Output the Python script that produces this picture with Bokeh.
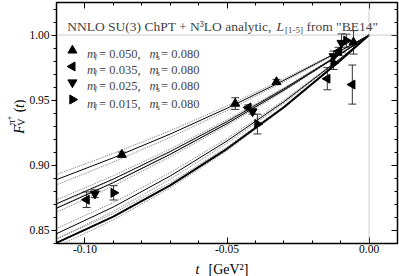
import numpy as np
from bokeh.plotting import figure
from bokeh.layouts import column, row
from bokeh.models import (LinearAxis, FixedTicker, PrintfTickFormatter, CustomJSTickFormatter,
                          Span, Label, Whisker, TeeHead, ColumnDataSource, Range1d)
from bokeh.core.properties import value
from bokeh.embed import file_html
from bokeh.resources import INLINE

# ---------------- data ----------------
up_t = [-0.0870, -0.0471, -0.0326, -0.0055]
up_F = [0.9082, 0.9474, 0.9640, 0.9944]
up_err = [0.0020, 0.0045, 0.0020, 0.0090]

left_t = [-0.0994, -0.0425, -0.0147, -0.0107, -0.0059]
left_F = [0.8736, 0.9444, 0.9665, 0.9876, 0.9620]
left_err = [0.0060, 0.0020, 0.0085, 0.0030, 0.0150]

down_t = [-0.0965, -0.0410, -0.0125, -0.0097]
down_F = [0.8782, 0.9413, 0.9837, 0.9939]
down_err = [0.0030, 0.0020, 0.0040, 0.0070]

right_t = [-0.0899, -0.0393, -0.0125, -0.0080]
right_F = [0.8789, 0.9317, 0.9786, 0.9957]
right_err = [0.0055, 0.0076, 0.0050, 0.0050]

curve_t = [-0.11, -0.09, -0.07, -0.05, -0.03, -0.01, 0.00]
fit_050 = [0.8890, 0.9058, 0.9240, 0.9438, 0.9652, 0.9880, 1.0]
fit_035 = [0.8705, 0.8895, 0.9106, 0.9336, 0.9587, 0.9857, 1.0]
fit_025 = [0.8670, 0.8867, 0.9084, 0.9320, 0.9577, 0.9854, 1.0]
fit_015 = [0.8475, 0.8680, 0.8918, 0.9187, 0.9488, 0.9821, 1.0]
fit_phys = [0.8405, 0.8606, 0.8846, 0.9127, 0.9446, 0.9806, 1.0]
band_050 = [0.0040, 0.0033, 0.0025, 0.0018, 0.0011, 0.0004, 0.0]
band_035 = [0.0030, 0.0025, 0.0019, 0.0014, 0.0008, 0.0003, 0.0]
band_025 = [0.0030, 0.0025, 0.0019, 0.0014, 0.0008, 0.0003, 0.0]
band_015 = [0.0040, 0.0033, 0.0025, 0.0018, 0.0011, 0.0004, 0.0]
band_phys = [0.0030, 0.0025, 0.0019, 0.0014, 0.0008, 0.0003, 0.0]

m_light = ["0.050", "0.035", "0.025", "0.015"]
m_strange = ["0.080", "0.080", "0.080", "0.080"]

x_major = [-0.10, -0.05, 0.00]
x_minor = [-0.11, -0.10, -0.09, -0.08, -0.07, -0.06, -0.05, -0.04, -0.03, -0.02, -0.01, 0.00, 0.01]
y_major = [0.85, 0.90, 0.95, 1.00]
y_minor = [0.84, 0.85, 0.86, 0.87, 0.88, 0.89, 0.90, 0.91, 0.92, 0.93, 0.94, 0.95,
           0.96, 0.97, 0.98, 0.99, 1.00, 1.01, 1.02]

SERIF = "Liberation Serif"
YW = 26          # width of the y-title strip
H = 259          # height of the main figure

# ---------------- main plot ----------------
p = figure(width=399 - YW, height=H, x_range=Range1d(-0.11, 0.01), y_range=Range1d(0.84, 1.025),
           output_backend="svg", toolbar_location=None,
           min_border_left=52 - YW, min_border_right=2, min_border_top=2, min_border_bottom=16)
p.xgrid.visible = False
p.ygrid.visible = False
p.outline_line_color = "black"
p.outline_line_width = 1.5
p.background_fill_color = "white"
p.border_fill_color = "white"


def style_axis(ax, ticks, minors, tin, tout, labels=True):
    ax.ticker = FixedTicker(ticks=ticks, minor_ticks=minors)
    ax.axis_line_color = None
    ax.major_tick_in = tin
    ax.major_tick_out = tout
    ax.minor_tick_in = 3 if tin else 0
    ax.minor_tick_out = 3 if tout else 0
    ax.major_tick_line_color = "black"
    ax.minor_tick_line_color = "black"
    if labels:
        ax.formatter = PrintfTickFormatter(format="%.2f")
        ax.major_label_text_font = SERIF
        ax.major_label_text_font_size = "11.5px"
        ax.major_label_text_color = "black"
    else:
        ax.formatter = CustomJSTickFormatter(code="return ''")
        ax.major_label_text_font_size = "1px"
        ax.major_label_standoff = 0


style_axis(p.xaxis[0], x_major, x_minor, 6, 0)
p.xaxis[0].major_label_standoff = 1
style_axis(p.yaxis[0], y_major, y_minor, 0, 5)
p.yaxis[0].major_label_standoff = 2

top_ax = LinearAxis()
style_axis(top_ax, x_major, x_minor, 6, 0, labels=False)
p.add_layout(top_ax, "above")
right_ax = LinearAxis()
style_axis(right_ax, y_major, y_minor, 6, 0, labels=False)
p.add_layout(right_ax, "right")

# dotted reference lines
p.add_layout(Span(location=1.0, dimension="width", line_color="#999999", line_dash="1 1", line_width=1))
p.add_layout(Span(location=0.0, dimension="height", line_color="#999999", line_dash="1 1", line_width=1))

# fit curves with error bands
ct = np.array(curve_t)
for fit, band, lw in [(fit_050, band_050, 1.0), (fit_035, band_035, 1.0), (fit_025, band_025, 1.0),
                      (fit_015, band_015, 1.0), (fit_phys, band_phys, 2.0)]:
    f = np.array(fit)
    b = np.array(band)
    p.line(ct, f + b, line_color="#555555", line_dash="1 1", line_width=0.8)
    p.line(ct, f - b, line_color="#555555", line_dash="1 1", line_width=0.8)
    p.line(ct, f, line_color="black", line_width=lw)

# data points with error bars
markers = ["triangle", "triangle", "inverted_triangle", "triangle"]
angles = [0.0, np.pi / 2, 0.0, -np.pi / 2]
series = [(up_t, up_F, up_err), (left_t, left_F, left_err),
          (down_t, down_F, down_err), (right_t, right_F, right_err)]
for (t, F, e), mk, ang in zip(series, markers, angles):
    F = np.array(F)
    e = np.array(e)
    src = ColumnDataSource(dict(t=t, F=F, lo=F - e, hi=F + e))
    w = Whisker(source=src, base="t", lower="lo", upper="hi", line_color="#333333", line_width=1,
                upper_head=TeeHead(size=8, line_color="#333333", line_width=1),
                lower_head=TeeHead(size=8, line_color="#333333", line_width=1))
    p.add_layout(w)
    p.scatter("t", "F", source=src, marker=mk, angle=ang, size=9,
              fill_color="black", line_color="black")

# legend (drawn by hand so that the side-pointing triangles keep their direction)
leg_x = -0.1044                       # layout: symbol column
leg_y = [0.9882, 0.9759, 0.9636, 0.9505]  # layout: row centres
p.scatter(x=[leg_x] * 4, y=leg_y, marker=markers, angle=angles, size=9,
          fill_color="black", line_color="black")
for yy, ml, ms in zip(leg_y, m_light, m_strange):
    parts = [("m", 14.7, -4, "12.5px", "italic"), ("l", 22.0, -7, "8.5px", "italic"),
             ("= " + ml + ",", 26.7, -4, "12.5px", "normal"),
             ("m", 77.0, -4, "12.5px", "italic"), ("s", 84.3, -7, "8.5px", "italic"),
             ("= " + ms, 88.7, -4, "12.5px", "normal")]
    for txt, dx, dy, fs, st in parts:
        p.add_layout(Label(x=leg_x, y=yy, x_offset=dx, y_offset=dy, text=txt, text_font=SERIF,
                           text_font_style=st, text_font_size=fs, text_baseline="alphabetic"))

# title inside plot
ty = 1.0066
p.add_layout(Label(x=-0.11, y=ty, x_offset=10.7, text="NNLO SU(3) ChPT + N³LO analytic,",
                   text_font=SERIF, text_font_size="13.5px", text_baseline="alphabetic"))
p.add_layout(Label(x=-0.11, y=ty, x_offset=220, text="L", text_font=SERIF, text_font_style="italic",
                   text_font_size="13.5px", text_baseline="alphabetic"))
p.add_layout(Label(x=-0.11, y=ty, x_offset=228.5, y_offset=-4, text="[1-5]", text_font=SERIF,
                   text_font_size="9px", text_baseline="alphabetic"))
p.add_layout(Label(x=-0.11, y=ty, x_offset=250, text="from \"BE14\"", text_font=SERIF,
                   text_font_size="13.5px", text_baseline="alphabetic"))

# ---------------- y-axis title strip ----------------
yf = figure(width=YW, height=H, x_range=Range1d(0, YW), y_range=Range1d(0, H),
            output_backend="svg", toolbar_location=None, x_axis_location=None, y_axis_location=None,
            min_border=0, outline_line_color=None)
yf.grid.visible = False
# (text, baseline x px, start y px from top, size, style) -- rotated, reading upward
ylab = [("F", 19, 141, "14px", "italic"), ("V", 21, 132.5, "10px", "normal"),
        ("π", 11, 132, "10px", "normal"), ("+", 8, 126.5, "8px", "normal"),
        ("(", 19, 118, "14px", "normal"), ("t", 19, 113.3, "14px", "italic"),
        (")", 19, 109.4, "14px", "normal")]
for txt, bx, sy, fs, st in ylab:
    yf.text(x=[bx], y=[H - sy], text=[txt], angle=np.pi / 2, text_font=value(SERIF),
            text_font_style=st, text_font_size=fs, text_baseline="alphabetic", text_align="left",
            text_color="black")

# ---------------- x-axis title strip ----------------
XH = 276 - H
xf = figure(width=399, height=XH, x_range=Range1d(0, 399), y_range=Range1d(0, XH),
            output_backend="svg", toolbar_location=None, x_axis_location=None, y_axis_location=None,
            min_border=0, outline_line_color=None)
xf.grid.visible = False
xf.text(x=[195], y=[276 - 269], text=["t"], text_font=value(SERIF), text_font_style="italic",
        text_font_size="14px", text_baseline="alphabetic", text_color="black")
xf.text(x=[208], y=[276 - 269], text=["[GeV²]"], text_font=value(SERIF), text_font_style="normal",
        text_font_size="14px", text_baseline="alphabetic", text_color="black")

layout = column(row(yf, p, spacing=0), xf, spacing=0)
open("out.html", "w").write(file_html(layout, INLINE))
